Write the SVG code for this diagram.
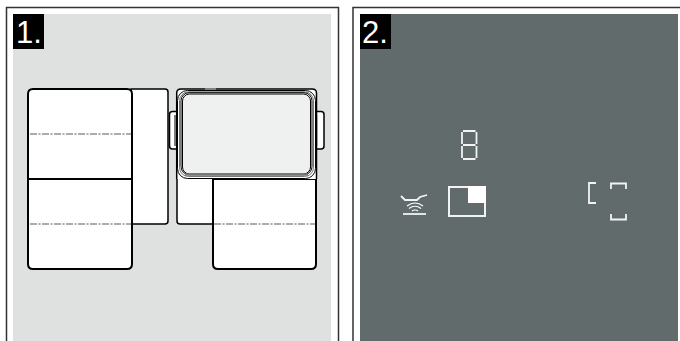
<svg xmlns="http://www.w3.org/2000/svg" width="680" height="341" viewBox="0 0 680 341">
<style>
.frame{fill:none;stroke:#333;stroke-width:1.5}
.lab{fill:#fff;font-family:"Liberation Sans",Arial,sans-serif;font-size:31px}
.pad{fill:#fff;stroke:#000;stroke-width:2}
.thin{fill:#fff;stroke:#000;stroke-width:1.5}
.dash{fill:none;stroke:#5a5a5a;stroke-width:1.2;stroke-dasharray:7 1.5 2 1.5}
.w{fill:none;stroke:#fff;stroke-width:1.2}
.ic{fill:none;stroke:#f2f3f3;stroke-width:1.8}
</style>
<rect width="680" height="341" fill="#fff"/>
<g id="panel1">
<path class="frame" d="M6.500 341V7.500H338.500V341"/>
<rect x="13" y="14" width="318" height="327" fill="#dfe1e0"/>
<rect x="13" y="14" width="31" height="35" fill="#000"/>
<text class="lab" x="16" y="43">1.</text>
</g>
<g id="zone-left">
<path class="thin" d="M131 89H165Q168 89 168 92V221Q168 224 165 224H131Z"/>
<path class="pad" d="M28 179V94Q28 89 33 89H127Q132 89 132 94V179Z"/>
<path class="pad" d="M28 179H132V264Q132 269 127 269H33Q28 269 28 264Z"/>
<path class="dash" d="M30 134H131M30 224H131"/>
</g>
<g id="zone-right">
<path class="thin" d="M214 170H177V221Q177 224 180 224H214Z"/>
<path class="pad" d="M213 179H316V264Q316 269 311 269H218Q213 269 213 264Z"/>
<path class="dash" d="M214 224H315"/>
</g>
<g id="pan">
<rect x="169.500" y="111.500" width="10" height="37.500" rx="3" class="thin"/>
<path d="M175 115V146" stroke="#555" stroke-width="1.500" fill="none"/>
<rect x="314.500" y="111.500" width="9.500" height="37.500" rx="3" class="thin"/>
<path d="M316.500 115V146" stroke="#555" stroke-width="1.500" fill="none"/>
<path d="M176.700 179V93Q176.700 89 181 89H312Q316.500 89 316.500 93V179" fill="#fff" stroke="#000" stroke-width="1.500"/>
<path d="M205 89H216" stroke="#999" stroke-width="1.500" fill="none"/>
<rect x="177.500" y="90.500" width="138" height="88" rx="10" fill="#fff" stroke="#000" stroke-width="1"/>
<rect x="179.500" y="91.800" width="134" height="84.700" rx="9" fill="#fff" stroke="#555" stroke-width="0.800"/>
<rect x="181" y="92.700" width="131" height="82" rx="8" fill="#fff" stroke="#000" stroke-width="1"/>
<rect x="182.500" y="94" width="128" height="80" rx="7" fill="#eff0f0" stroke="#000" stroke-width="1"/>
<path d="M185 174.500H308" stroke="#777" stroke-width="2.500" fill="none"/>
</g>
<g id="panel2">
<path class="frame" d="M353 341V7.500H680"/>
<rect x="360" y="14" width="318" height="327" fill="#626b6c"/>
<rect x="360" y="14" width="31" height="35" fill="#000"/>
<text class="lab" x="362" y="43">2.</text>
</g>
<g id="digit">
<path class="ic" stroke-width="2.200" d="M463 131H475.500M462 132V144M476.500 132V144M463 145H475.500M462 146V158M476.500 146V158M463 159H475.500"/>
</g>
<g id="induction-icon">
<path class="ic" stroke-width="1.2" d="M401 196L405 200H417L420 197L427 195"/>
<path class="w" d="M407 206Q415 200 423 206M409 208.500Q415 204 421 208.500M412 211Q415 209 418 211"/>
<path class="ic" d="M403 214H426"/>
</g>
<g id="zone-indicator">
<rect x="449" y="187" width="36" height="29" fill="none" stroke="#f2f3f3" stroke-width="2"/>
<rect x="468" y="186" width="18" height="17" fill="#fff"/>
</g>
<g id="brackets">
<path class="ic" d="M596 183H589V203H596"/>
<path class="ic" d="M611 189V183.500H626V189"/>
<path class="ic" d="M611 214V219.500H626V214"/>
</g>
</svg>
